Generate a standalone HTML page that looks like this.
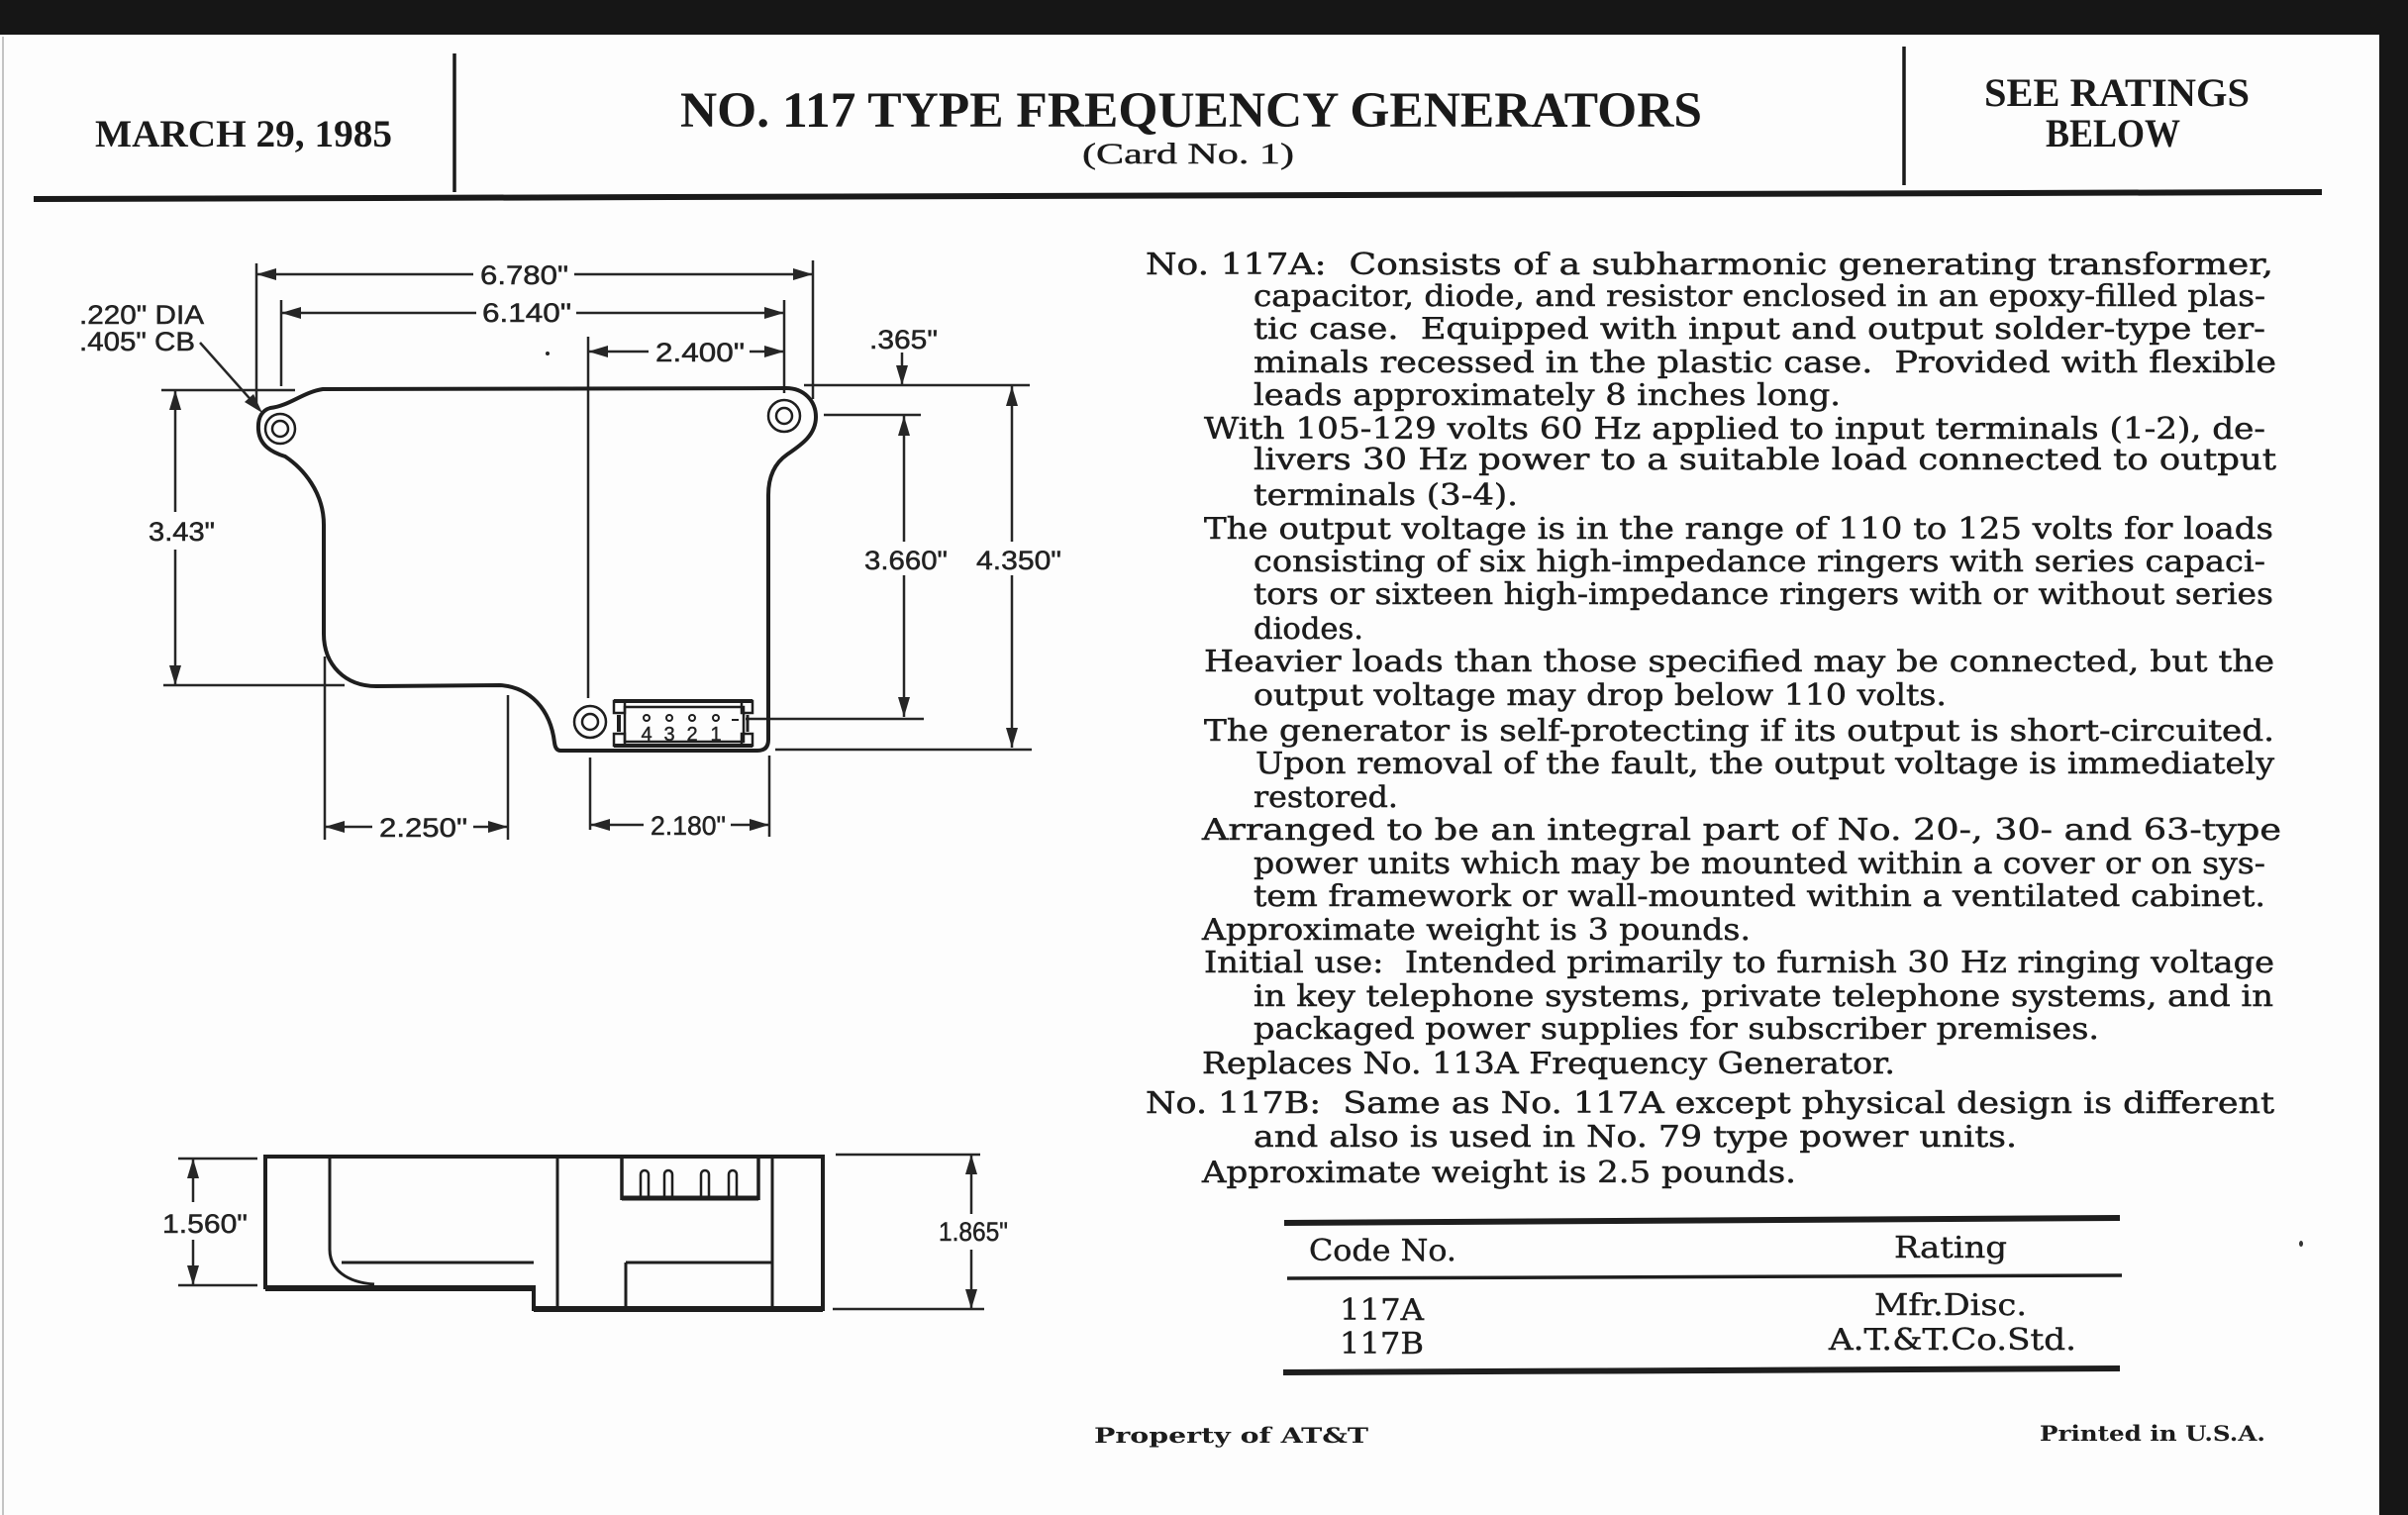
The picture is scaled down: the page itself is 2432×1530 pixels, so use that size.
<!DOCTYPE html>
<html>
<head>
<meta charset="utf-8">
<style>
html,body{margin:0;padding:0;background:#fff;}
svg{display:block;}
.b{font-family:"DejaVu Serif","Liberation Serif",serif;font-size:30px;fill:#1c1c1c;stroke:#1c1c1c;stroke-width:0.5;}
.t{font-family:"DejaVu Serif","Liberation Serif",serif;font-size:30px;fill:#1c1c1c;stroke:#1c1c1c;stroke-width:0.4;}
.f{font-family:"DejaVu Serif","Liberation Serif",serif;font-size:21px;font-weight:bold;fill:#1c1c1c;}
.h{font-family:"Liberation Serif",serif;font-weight:bold;fill:#1a1a1a;}
.d{font-family:"Liberation Sans","DejaVu Sans",sans-serif;font-size:27px;fill:#222;stroke:#222;stroke-width:0.5;}
.n{font-family:"Liberation Sans","DejaVu Sans",sans-serif;font-size:20px;fill:#222;stroke:#222;stroke-width:0.4;}
</style>
</head>
<body>
<svg width="2432" height="1530" viewBox="0 0 2432 1530" xmlns="http://www.w3.org/2000/svg">
<rect x="0" y="0" width="2432" height="1530" fill="#fdfdfd"/>
<rect x="0" y="0" width="2432" height="35" fill="#161616"/>
<rect x="2403" y="0" width="29" height="1530" fill="#161616"/>
<line x1="3" y1="37" x2="3" y2="1530" stroke="#c4c4c4" stroke-width="2"/>

<!-- Header -->
<line x1="459" y1="54" x2="459" y2="194" stroke="#1a1a1a" stroke-width="3.5"/>
<line x1="1923" y1="47" x2="1923" y2="187" stroke="#1a1a1a" stroke-width="3.5"/>
<line x1="34" y1="201" x2="2345" y2="194" stroke="#1a1a1a" stroke-width="6"/>
<text class="h" x="96" y="148" font-size="39" textLength="300" lengthAdjust="spacingAndGlyphs">MARCH 29, 1985</text>
<text class="h" x="687" y="128" font-size="51" textLength="1032" lengthAdjust="spacingAndGlyphs">NO. 117 TYPE FREQUENCY GENERATORS</text>
<text x="1093" y="165" font-family="Liberation Serif, serif" font-size="30" fill="#1a1a1a" stroke="#1a1a1a" stroke-width="0.4" textLength="214" lengthAdjust="spacingAndGlyphs">(Card No. 1)</text>
<text class="h" x="2004" y="107" font-size="40" textLength="268" lengthAdjust="spacingAndGlyphs">SEE RATINGS</text>
<text class="h" x="2066" y="148" font-size="40" textLength="136" lengthAdjust="spacingAndGlyphs">BELOW</text>

<!-- Top view drawing: dimension lines -->
<g stroke="#262626" stroke-width="2.5" fill="none">
  <line x1="259" y1="266" x2="259" y2="408"/>
  <line x1="821" y1="263" x2="821" y2="403"/>
  <line x1="259" y1="277" x2="478" y2="277"/>
  <line x1="580" y1="277" x2="821" y2="277"/>
  <line x1="284" y1="303" x2="284" y2="390"/>
  <line x1="792" y1="303" x2="792" y2="397"/>
  <line x1="284" y1="316" x2="481" y2="316"/>
  <line x1="582" y1="316" x2="792" y2="316"/>
  <line x1="594" y1="340" x2="594" y2="705"/>
  <line x1="594" y1="355" x2="655" y2="355"/>
  <line x1="757" y1="355" x2="792" y2="355"/>
  <line x1="911" y1="356" x2="911" y2="389"/>
  <line x1="812" y1="389" x2="1040" y2="389"/>
  <line x1="832" y1="419" x2="930" y2="419"/>
  <line x1="753" y1="726" x2="933" y2="726"/>
  <line x1="783" y1="757" x2="1042" y2="757"/>
  <line x1="913" y1="420" x2="913" y2="547"/>
  <line x1="913" y1="581" x2="913" y2="724"/>
  <line x1="1022" y1="390" x2="1022" y2="547"/>
  <line x1="1022" y1="581" x2="1022" y2="755"/>
  <line x1="163" y1="394" x2="298" y2="394"/>
  <line x1="165" y1="692" x2="348" y2="692"/>
  <line x1="177" y1="394" x2="177" y2="517"/>
  <line x1="177" y1="555" x2="177" y2="692"/>
  <line x1="328" y1="663" x2="328" y2="848"/>
  <line x1="513" y1="702" x2="513" y2="848"/>
  <line x1="328" y1="835" x2="376" y2="835"/>
  <line x1="478" y1="835" x2="513" y2="835"/>
  <line x1="596" y1="765" x2="596" y2="838"/>
  <line x1="777" y1="763" x2="777" y2="845"/>
  <line x1="596" y1="833" x2="650" y2="833"/>
  <line x1="738" y1="833" x2="777" y2="833"/>
  <line x1="202" y1="346" x2="258" y2="409"/>
</g>
<g fill="#262626">
  <polygon points="259,277 279,271 279,283"/>
  <polygon points="821,277 801,271 801,283"/>
  <polygon points="284,316 304,310 304,322"/>
  <polygon points="792,316 772,310 772,322"/>
  <polygon points="594,355 614,349 614,361"/>
  <polygon points="792,355 772,349 772,361"/>
  <polygon points="911,389 905,369 917,369"/>
  <polygon points="913,420 907,440 919,440"/>
  <polygon points="913,724 907,704 919,704"/>
  <polygon points="1022,390 1016,410 1028,410"/>
  <polygon points="1022,755 1016,735 1028,735"/>
  <polygon points="177,394 171,414 183,414"/>
  <polygon points="177,692 171,672 183,672"/>
  <polygon points="328,835 348,829 348,841"/>
  <polygon points="513,835 493,829 493,841"/>
  <polygon points="596,833 616,827 616,839"/>
  <polygon points="777,833 757,827 757,839"/>
  <polygon points="265,417 256,398 247,406"/>
  <circle cx="553" cy="357" r="2"/>
  <polygon points="195,1170 189,1190 201,1190"/>
  <polygon points="195,1298 189,1278 201,1278"/>
  <polygon points="981,1166 975,1186 987,1186"/>
  <polygon points="981,1322 975,1302 987,1302"/>
</g>

<!-- Top view outline -->
<path d="M 273,412 C 292,410 306,396 326,393 L 794,392 C 812,392 824,405 824,421 C 824,440 808,450 795,459 C 782,468 776,482 776,500 L 776,747 Q 776,758 765,758 L 566,758 Q 561,758 560,750 C 556,716 535,694 505,692 L 380,693 C 349,693 327,672 327,640 L 327,530 C 327,497 306,473 288,461 C 275,457 262,450 261,434 C 260,420 266,414 273,412 Z" fill="none" stroke="#1e1e1e" stroke-width="4"/>
<g fill="none" stroke="#1e1e1e" stroke-width="2.5">
  <circle cx="283" cy="433" r="15"/>
  <circle cx="283" cy="433" r="8"/>
  <circle cx="792" cy="420" r="16"/>
  <circle cx="792" cy="420" r="8"/>
  <circle cx="596" cy="729" r="16"/>
  <circle cx="596" cy="729" r="8"/>
</g>
<!-- connector top view -->
<g fill="none" stroke="#1e1e1e">
  <line x1="620" y1="708" x2="760" y2="708" stroke-width="4"/>
  <line x1="620" y1="753" x2="760" y2="753" stroke-width="4"/>
  <rect x="631" y="714" width="120" height="35" stroke-width="2.5"/>
  <rect x="620" y="708" width="11" height="12" stroke-width="2.5"/>
  <rect x="620" y="741" width="11" height="12" stroke-width="2.5"/>
  <rect x="749" y="708" width="11" height="12" stroke-width="2.5"/>
  <rect x="749" y="741" width="11" height="12" stroke-width="2.5"/>
  <line x1="625" y1="722" x2="625" y2="739" stroke-width="4"/>
  <line x1="755" y1="722" x2="755" y2="739" stroke-width="3"/>
  <line x1="739" y1="727" x2="746" y2="727" stroke-width="2"/>
  <circle cx="653" cy="725" r="3" stroke-width="2"/>
  <circle cx="676" cy="725" r="3" stroke-width="2"/>
  <circle cx="699" cy="725" r="3" stroke-width="2"/>
  <circle cx="723" cy="725" r="3" stroke-width="2"/>
</g>
<text class="n" x="653" y="748" text-anchor="middle">4</text>
<text class="n" x="676" y="748" text-anchor="middle">3</text>
<text class="n" x="699" y="748" text-anchor="middle">2</text>
<text class="n" x="723" y="748" text-anchor="middle">1</text>

<!-- Dimension labels -->
<text class="d" x="485" y="287" textLength="89" lengthAdjust="spacingAndGlyphs">6.780"</text>
<text class="d" x="487" y="325" textLength="90" lengthAdjust="spacingAndGlyphs">6.140"</text>
<text class="d" x="662" y="365" textLength="90" lengthAdjust="spacingAndGlyphs">2.400"</text>
<text class="d" x="878" y="352" textLength="69" lengthAdjust="spacingAndGlyphs">.365"</text>
<text class="d" x="80" y="327" textLength="126" lengthAdjust="spacingAndGlyphs">.220" DIA</text>
<text class="d" x="80" y="354" textLength="117" lengthAdjust="spacingAndGlyphs">.405" CB</text>
<text class="d" x="150" y="546" textLength="67" lengthAdjust="spacingAndGlyphs">3.43"</text>
<text class="d" x="873" y="575" textLength="84" lengthAdjust="spacingAndGlyphs">3.660"</text>
<text class="d" x="986" y="575" textLength="86" lengthAdjust="spacingAndGlyphs">4.350"</text>
<text class="d" x="383" y="845" textLength="89" lengthAdjust="spacingAndGlyphs">2.250"</text>
<text class="d" x="657" y="843" textLength="76" lengthAdjust="spacingAndGlyphs">2.180"</text>
<text class="d" x="164" y="1245" textLength="86" lengthAdjust="spacingAndGlyphs">1.560"</text>
<text class="d" x="948" y="1253" textLength="70" lengthAdjust="spacingAndGlyphs">1.865"</text>

<!-- Side view -->
<g stroke="#262626" stroke-width="2.5" fill="none">
  <line x1="180" y1="1170" x2="260" y2="1170"/>
  <line x1="180" y1="1298" x2="260" y2="1298"/>
  <line x1="195" y1="1170" x2="195" y2="1214"/>
  <line x1="195" y1="1252" x2="195" y2="1298"/>
  <line x1="844" y1="1166" x2="990" y2="1166"/>
  <line x1="841" y1="1322" x2="994" y2="1322"/>
  <line x1="981" y1="1166" x2="981" y2="1226"/>
  <line x1="981" y1="1262" x2="981" y2="1322"/>
</g>
<g stroke="#1e1e1e" fill="none">
  <path d="M 268,1168 L 831,1168 L 831,1322 L 539,1322 L 539,1300 L 268,1300 Z" stroke-width="4"/>
  <line x1="268" y1="1301" x2="539" y2="1301" stroke-width="6"/>
  <line x1="539" y1="1322" x2="831" y2="1322" stroke-width="6"/>
  <path d="M 333,1170 L 333,1262 C 333,1282 350,1295 378,1297" stroke-width="3"/>
  <line x1="345" y1="1275" x2="539" y2="1275" stroke-width="3"/>
  <line x1="563" y1="1168" x2="563" y2="1322" stroke-width="3"/>
  <line x1="628" y1="1168" x2="628" y2="1212" stroke-width="3.5"/>
  <line x1="766" y1="1168" x2="766" y2="1212" stroke-width="3.5"/>
  <line x1="628" y1="1210" x2="766" y2="1210" stroke-width="5"/>
  <path d="M 647,1208 L 647,1186 A 4 4 0 0 1 655,1186 L 655,1208" stroke-width="2.5"/>
  <path d="M 671,1208 L 671,1186 A 4 4 0 0 1 679,1186 L 679,1208" stroke-width="2.5"/>
  <path d="M 708,1208 L 708,1186 A 4 4 0 0 1 716,1186 L 716,1208" stroke-width="2.5"/>
  <path d="M 736,1208 L 736,1186 A 4 4 0 0 1 744,1186 L 744,1208" stroke-width="2.5"/>
  <line x1="780" y1="1168" x2="780" y2="1322" stroke-width="3"/>
  <line x1="632" y1="1275" x2="780" y2="1275" stroke-width="3"/>
  <line x1="632" y1="1275" x2="632" y2="1322" stroke-width="3"/>
</g>

<!-- Body text -->
<text class="b" x="1157" y="277" textLength="1139" lengthAdjust="spacingAndGlyphs">No. 117A:&#160; Consists of a subharmonic generating transformer,</text>
<text class="b" x="1266" y="309" textLength="1022" lengthAdjust="spacingAndGlyphs">capacitor, diode, and resistor enclosed in an epoxy-filled plas-</text>
<text class="b" x="1266" y="342" textLength="1022" lengthAdjust="spacingAndGlyphs">tic case.&#160; Equipped with input and output solder-type ter-</text>
<text class="b" x="1266" y="376" textLength="1033" lengthAdjust="spacingAndGlyphs">minals recessed in the plastic case.&#160; Provided with flexible</text>
<text class="b" x="1266" y="409" textLength="593" lengthAdjust="spacingAndGlyphs">leads approximately 8 inches long.</text>
<text class="b" x="1216" y="443" textLength="1072" lengthAdjust="spacingAndGlyphs">With 105-129 volts 60 Hz applied to input terminals (1-2), de-</text>
<text class="b" x="1266" y="474" textLength="1033" lengthAdjust="spacingAndGlyphs">livers 30 Hz power to a suitable load connected to output</text>
<text class="b" x="1266" y="510" textLength="267" lengthAdjust="spacingAndGlyphs">terminals (3-4).</text>
<text class="b" x="1216" y="544" textLength="1080" lengthAdjust="spacingAndGlyphs">The output voltage is in the range of 110 to 125 volts for loads</text>
<text class="b" x="1266" y="577" textLength="1022" lengthAdjust="spacingAndGlyphs">consisting of six high-impedance ringers with series capaci-</text>
<text class="b" x="1266" y="610" textLength="1030" lengthAdjust="spacingAndGlyphs">tors or sixteen high-impedance ringers with or without series</text>
<text class="b" x="1266" y="645" textLength="111" lengthAdjust="spacingAndGlyphs">diodes.</text>
<text class="b" x="1216" y="678" textLength="1081" lengthAdjust="spacingAndGlyphs">Heavier loads than those specified may be connected, but the</text>
<text class="b" x="1266" y="712" textLength="700" lengthAdjust="spacingAndGlyphs">output voltage may drop below 110 volts.</text>
<text class="b" x="1216" y="748" textLength="1081" lengthAdjust="spacingAndGlyphs">The generator is self-protecting if its output is short-circuited.</text>
<text class="b" x="1268" y="781" textLength="1029" lengthAdjust="spacingAndGlyphs">Upon removal of the fault, the output voltage is immediately</text>
<text class="b" x="1266" y="815" textLength="146" lengthAdjust="spacingAndGlyphs">restored.</text>
<text class="b" x="1214" y="848" textLength="1090" lengthAdjust="spacingAndGlyphs">Arranged to be an integral part of No. 20-, 30- and 63-type</text>
<text class="b" x="1266" y="882" textLength="1022" lengthAdjust="spacingAndGlyphs">power units which may be mounted within a cover or on sys-</text>
<text class="b" x="1266" y="915" textLength="1022" lengthAdjust="spacingAndGlyphs">tem framework or wall-mounted within a ventilated cabinet.</text>
<text class="b" x="1214" y="949" textLength="554" lengthAdjust="spacingAndGlyphs">Approximate weight is 3 pounds.</text>
<text class="b" x="1216" y="982" textLength="1081" lengthAdjust="spacingAndGlyphs">Initial use:&#160; Intended primarily to furnish 30 Hz ringing voltage</text>
<text class="b" x="1266" y="1016" textLength="1030" lengthAdjust="spacingAndGlyphs">in key telephone systems, private telephone systems, and in</text>
<text class="b" x="1266" y="1049" textLength="854" lengthAdjust="spacingAndGlyphs">packaged power supplies for subscriber premises.</text>
<text class="b" x="1214" y="1084" textLength="700" lengthAdjust="spacingAndGlyphs">Replaces No. 113A Frequency Generator.</text>
<text class="b" x="1157" y="1124" textLength="1140" lengthAdjust="spacingAndGlyphs">No. 117B:&#160; Same as No. 117A except physical design is different</text>
<text class="b" x="1266" y="1158" textLength="771" lengthAdjust="spacingAndGlyphs">and also is used in No. 79 type power units.</text>
<text class="b" x="1214" y="1194" textLength="600" lengthAdjust="spacingAndGlyphs">Approximate weight is 2.5 pounds.</text>

<!-- Table -->
<line x1="1297" y1="1235" x2="2141" y2="1230" stroke="#1e1e1e" stroke-width="6"/>
<line x1="1300" y1="1291" x2="2143" y2="1288" stroke="#1e1e1e" stroke-width="3.5"/>
<line x1="1296" y1="1386" x2="2141" y2="1382" stroke="#1e1e1e" stroke-width="6"/>
<text class="t" x="1322" y="1273" textLength="149" lengthAdjust="spacingAndGlyphs">Code No.</text>
<text class="t" x="1913" y="1270" textLength="114" lengthAdjust="spacingAndGlyphs">Rating</text>
<text class="t" x="1353" y="1333" textLength="85" lengthAdjust="spacingAndGlyphs">117A</text>
<text class="t" x="1353" y="1367" textLength="85" lengthAdjust="spacingAndGlyphs">117B</text>
<text class="t" x="1893" y="1328" textLength="154" lengthAdjust="spacingAndGlyphs">Mfr.Disc.</text>
<text class="t" x="1847" y="1363" textLength="250" lengthAdjust="spacingAndGlyphs">A.T.&amp;T.Co.Std.</text>
<ellipse cx="2324" cy="1256" rx="2" ry="3" fill="#333"/>

<!-- Footer -->
<text class="f" x="1105" y="1457" textLength="277" lengthAdjust="spacingAndGlyphs">Property of AT&amp;T</text>
<text class="f" x="2060" y="1455" textLength="228" lengthAdjust="spacingAndGlyphs">Printed in U.S.A.</text>
</svg>
</body>
</html>
